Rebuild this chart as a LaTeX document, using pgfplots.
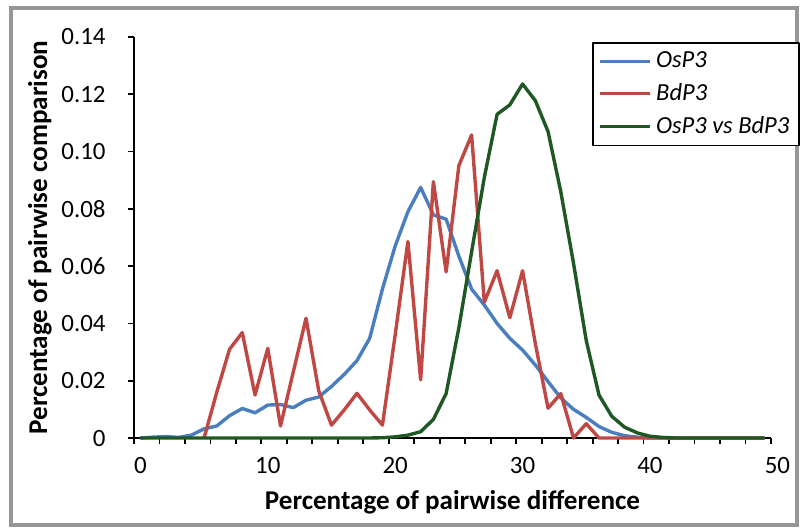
\documentclass[border=0pt]{standalone}
\usepackage{pgfplots}
\pgfplotsset{compat=1.18}
\usepackage{fontspec}
\setmainfont{Carlito}
\definecolor{cblue}{RGB}{74,126,190}
\definecolor{cred}{RGB}{192,72,68}
\definecolor{cgreen}{RGB}{32,88,36}
\definecolor{frame}{RGB}{150,150,150}
\begin{document}
\begin{tikzpicture}
\useasboundingbox (0,0) rectangle (402bp,-265.5bp);
\draw[frame, line width=1.6bp] (5.5bp,-4bp) rectangle (398.5bp,-262.5bp);
\begin{axis}[
  at={(67bp,-219bp)}, anchor=south west,
  scale only axis, width=318.5bp, height=200.5bp,
  xmin=0, xmax=50, ymin=0, ymax=0.14,
  clip=false,
  axis x line=bottom, axis y line=left,
  axis line style={-, line width=0.9bp, black},
  tick align=outside,
  major tick length=3.2bp, minor tick length=3.2bp,
  every tick/.style={black, line width=0.9bp},
  xtick={0,10,20,30,40,50},
  minor xtick={2,4,6,8,12,14,16,18,22,24,26,28,32,34,36,38,42,44,46,48},
  xticklabels={0,10,20,30,40,50},
  xticklabel style={xshift=3.2bp, yshift=-3bp},
  ytick={0,0.02,0.04,0.06,0.08,0.10,0.12,0.14},
  yticklabels={0,0.02,0.04,0.06,0.08,0.10,0.12,0.14},
  yticklabel style={xshift=-7.5bp},
  tick label style={font=\fontsize{12.5}{14}\selectfont},
  xlabel={Percentage of pairwise difference},
  ylabel={Percentage of pairwise comparison},
  xlabel style={at={(axis description cs:0.5,0)}, anchor=center, yshift=-32bp, font=\bfseries\fontsize{13.6}{15}\selectfont},
  ylabel style={at={(axis description cs:0,0.5)}, anchor=center, yshift=47bp, font=\bfseries\fontsize{13.6}{15}\selectfont},
  legend style={at={(0.719,0.9875)}, anchor=north west, draw=black, line width=0.8bp,
    font=\itshape\fontsize{12.3}{14}\selectfont, inner xsep=3bp, inner ysep=2.5bp, row sep=2.5bp,
    cells={anchor=west}},
  legend image code/.code={\draw[#1, line width=1.7bp] (0bp,0bp) -- (25bp,0bp);},
  line join=round,
]
\addplot[cblue, line width=1.7bp] coordinates {
(0.5,0) (1.5,0.0003) (2.5,0.0005) (3.5,0.0002) (4.5,0.0010) (5.5,0.0032) (6.5,0.0042) (7.5,0.0078)
(8.5,0.0103) (9.5,0.0088) (10.5,0.0115) (11.5,0.0117) (12.5,0.0106) (13.5,0.0132) (14.5,0.0143)
(15.5,0.0180) (16.5,0.0222) (17.5,0.0270) (18.5,0.0348) (19.5,0.0520) (20.5,0.0670) (21.5,0.0790)
(22.5,0.0875) (23.5,0.0779) (24.5,0.0764) (25.5,0.0635) (26.5,0.0520) (27.5,0.0464) (28.5,0.0400)
(29.5,0.0348) (30.5,0.0307) (31.5,0.0255) (32.5,0.0197) (33.5,0.0140) (34.5,0.0100) (35.5,0.0072)
(36.5,0.0040) (37.5,0.0020) (38.5,0.0008) (39.5,0.0003) (40.5,0) (41.5,0) (42.5,0) (43.5,0)
(44.5,0) (45.5,0) (46.5,0) (47.5,0) (48.5,0) (49.5,0)
};
\addlegendentry{OsP3}
\addplot[cred, line width=1.7bp] coordinates {
(5.5,0) (6.5,0.0160) (7.5,0.0310) (8.5,0.0368) (9.5,0.0150) (10.5,0.0313) (11.5,0.0042)
(12.5,0.0230) (13.5,0.0418) (14.5,0.0165) (15.5,0.0045) (16.5,0.0098) (17.5,0.0156) (18.5,0.0098)
(19.5,0.0045) (20.5,0.0360) (21.5,0.0686) (22.5,0.0203) (23.5,0.0895) (24.5,0.0580) (25.5,0.0951)
(26.5,0.1058) (27.5,0.0474) (28.5,0.0584) (29.5,0.0420) (30.5,0.0584) (31.5,0.0330) (32.5,0.0104)
(33.5,0.0155) (34.5,0) (35.5,0.0050) (36.5,0) (37.5,0) (38.5,0) (39.5,0) (40.5,0) (41.5,0)
(42.5,0) (43.5,0) (44.5,0) (45.5,0) (46.5,0) (47.5,0) (48.5,0) (49.5,0)
};
\addlegendentry{BdP3}
\addplot[cgreen, line width=1.7bp] coordinates {
(0.5,0) (1.5,0) (2.5,0) (3.5,0) (4.5,0) (5.5,0) (6.5,0) (7.5,0) (8.5,0) (9.5,0) (10.5,0)
(11.5,0) (12.5,0) (13.5,0) (14.5,0) (15.5,0) (16.5,0) (17.5,0) (18.5,0) (19.5,0.0001)
(20.5,0.0004) (21.5,0.0010) (22.5,0.0022) (23.5,0.0065) (24.5,0.0155) (25.5,0.0385)
(26.5,0.0650) (27.5,0.0910) (28.5,0.1130) (29.5,0.1163) (30.5,0.1236) (31.5,0.1178)
(32.5,0.1070) (33.5,0.0860) (34.5,0.0610) (35.5,0.0340) (36.5,0.0150) (37.5,0.0076)
(38.5,0.0038) (39.5,0.0018) (40.5,0.0006) (41.5,0.0002) (42.5,0) (43.5,0) (44.5,0)
(45.5,0) (46.5,0) (47.5,0) (48.5,0) (49.5,0)
};
\addlegendentry{OsP3 vs BdP3}
\end{axis}
\end{tikzpicture}
\end{document}
